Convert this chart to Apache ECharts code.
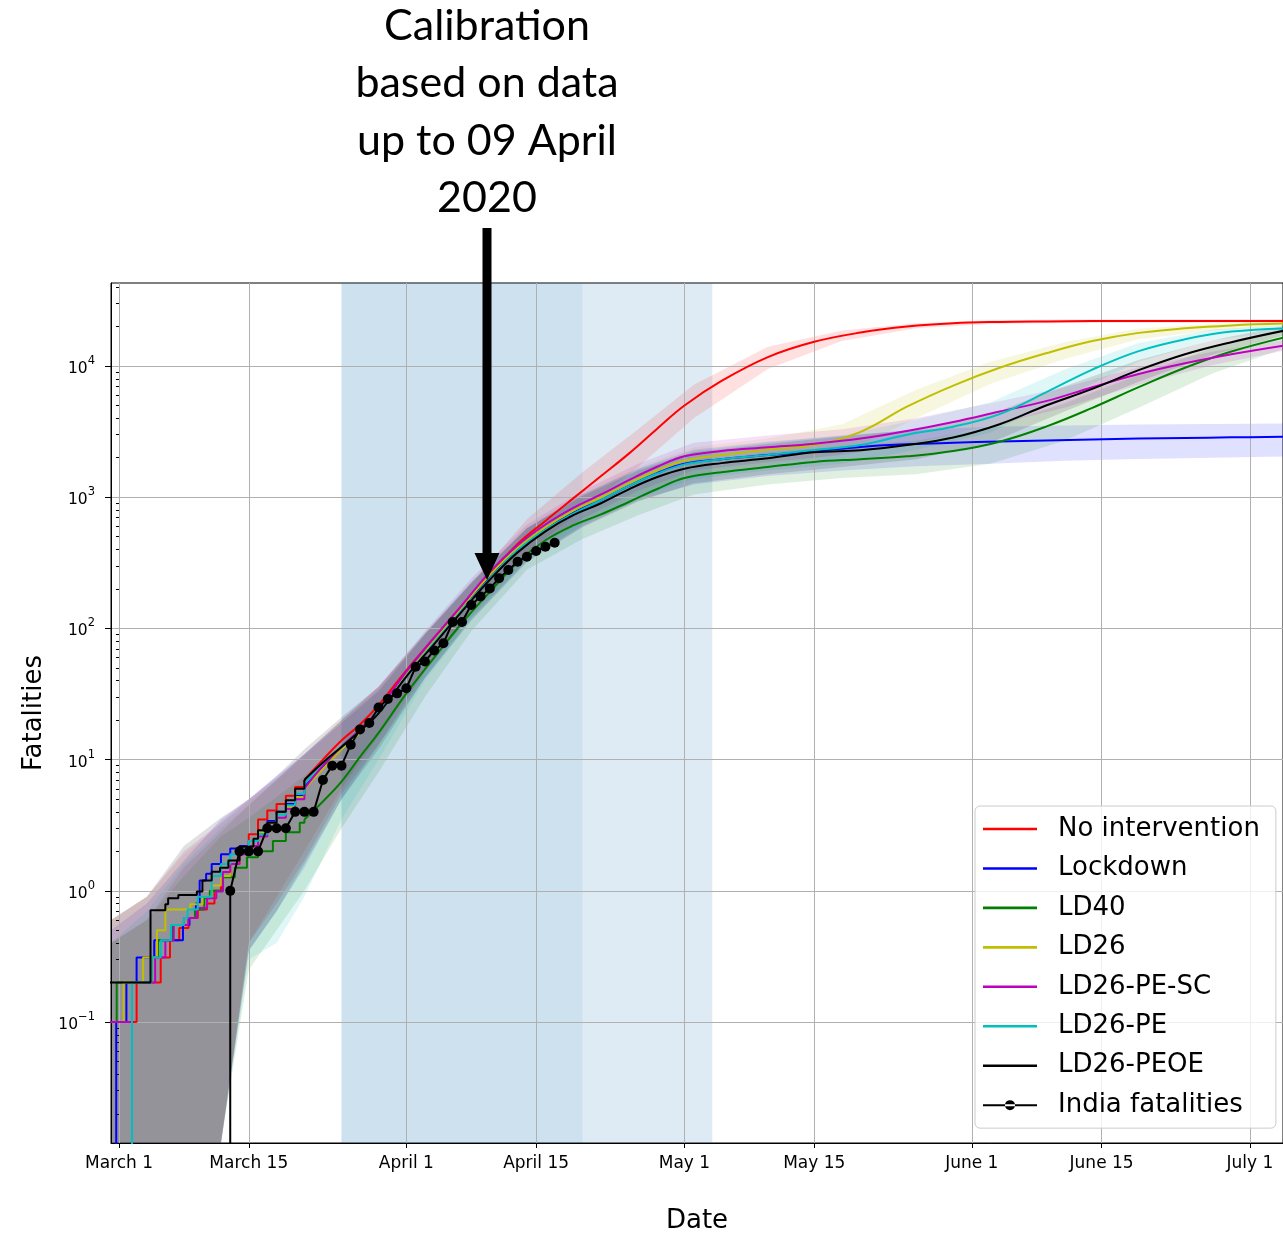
<!DOCTYPE html>
<html><head><meta charset="utf-8">
<script src="https://cdn.jsdelivr.net/npm/echarts@6/dist/echarts.min.js"></script>
<style>html,body{margin:0;padding:0;background:#fff}#c{width:1283px;height:1233px}</style>
</head><body><div id="c"></div>
<script>
// x values are day offsets from 1 March 2020
const xTickDays = [0, 14, 31, 45, 61, 75, 92, 106, 122];
const xTickLabels = ['March 1', 'March 15', 'April 1', 'April 15', 'May 1', 'May 15', 'June 1', 'June 15', 'July 1'];
const yTickValues = [0.1, 1, 10, 100, 1000, 10000];
const yTickExponents = ['\u22121', '0', '1', '2', '3', '4'];
const lockdownPhase1 = [24, 50]; // 25 Mar - 20 Apr
const lockdownPhase2 = [50, 64]; // 20 Apr - 4 May

const seriesNames = ['No intervention', 'Lockdown', 'LD40', 'LD26', 'LD26-PE-SC', 'LD26-PE', 'LD26-PEOE', 'India fatalities'];
const seriesColors = ['#ff0000', '#0000ff', '#008000', '#bfbf00', '#bf00bf', '#00bfbf', '#000000', '#000000'];

// early (stepwise) model output, [day, fatalities]
const earlyRed = [[-1,0.1],[1.9,0.2],[4.5,0.31],[5.5,0.42],[6.5,0.52],[7.5,0.62],[8.5,0.72],[9.5,0.8],[10.3,1.0],[11,1.3],[12,1.6],[13,2.1],[14,2.7],[15,3.5],[16,4.1],[17,4.6],[18,5.3],[19,6.2],[20,7.0]];
const earlyBlue = [[-1,0.0001],[-0.3,0.1],[0.8,0.2],[1.9,0.31],[3.8,0.42],[6.9,0.55],[7.6,0.62],[8.3,0.8],[8.7,1.2],[9.4,1.35],[10,1.6],[11,1.9],[12,2.1],[13,2.2],[14,2.4],[15,2.8],[16,3.4],[17,4.0],[18,4.6],[19,5.3],[20,6.2]];
const earlyGreen = [[-1,0.1],[-0.25,0.2],[3.5,0.31],[4.2,0.42],[5.8,0.55],[7,0.62],[8.2,0.72],[9.2,0.88],[9.8,1.0],[11.2,1.27],[12.5,1.5],[13.8,1.8],[15,2.0],[16.6,2.4],[18,2.8],[19.5,3.3],[20,3.5]];
const earlyYellow = [[-1,0.1],[0.5,0.2],[2.6,0.31],[4.1,0.5],[5,0.72],[7.7,0.79],[9,0.9],[10,1.1],[11,1.3],[12,1.6],[13,2.0],[14,2.4],[15,2.8],[16,3.3],[17,3.8],[18,4.4],[19,5.2],[20,6.0]];
const earlyMagenta = [[-1,0.1],[1.4,0.2],[3.9,0.31],[5.0,0.42],[5.9,0.55],[7.5,0.62],[8.4,0.74],[9.5,0.88],[10.5,0.99],[11.2,1.39],[12,1.6],[13,1.9],[14,2.2],[15,2.6],[16,3.1],[17,3.6],[18,4.2],[19,5.0],[20,6.0]];
const earlyCyan = [[-1,0.0001],[1.4,0.2],[3.5,0.31],[4.5,0.42],[5.6,0.55],[7.0,0.62],[7.4,0.72],[8.5,0.9],[10,1.3],[11,1.6],[12,1.9],[13,2.1],[14,2.4],[15,2.7],[16,3.1],[17,3.8],[18,4.5],[19,5.5],[20,6.5]];
const earlyBlack = [[-1,0.2],[3.4,0.71],[5,0.79],[5.3,0.88],[6.4,0.93],[8.4,0.99],[9,1.2],[10,1.4],[10.9,1.5],[11.8,1.7],[13,2.17],[14.5,2.5],[15,2.9],[16,3.3],[17,4.0],[18,4.9],[19,6.0],[20,7.0]];

// later (smooth) model output
const lateDays = [20,22,24,26,28,31,34,37,40,43,46,49,52,55,58,61,65,70,75,80,85,90,95,100,105,110,115,120,126];
const lateRed = [7.0,10,14,18.5,26,48,85,150,260,440,660,980,1450,2150,3300,5000,7700,11700,15300,18000,20000,21200,21700,21900,22000,22000,22000,22000,22000];
const lateBlue = [6.2,8.8,12.5,16.5,23,44,79,140,245,400,570,760,950,1220,1520,1800,1950,2100,2240,2420,2530,2600,2660,2710,2760,2800,2830,2860,2890];
const lateGreen = [3.5,4.8,6.8,10.5,16,32,60,110,190,320,470,610,740,920,1150,1400,1550,1700,1860,1950,2050,2250,2650,3450,4800,6900,9700,12900,16700];
const lateYellow = [6.0,8.5,12,16,23,44,80,145,255,410,590,790,1000,1280,1600,1900,2100,2300,2500,3150,4900,7100,9700,12500,15500,17900,19400,20400,21100];
const lateMagenta = [6.0,9.0,12.5,17,24,47,85,150,270,430,620,830,1050,1350,1700,2050,2250,2400,2560,2800,3200,3750,4500,5400,6900,8700,10500,12300,14450];
const lateCyan = [6.5,9.5,12.5,16.5,23,43,78,138,240,395,565,750,950,1220,1510,1780,1950,2100,2290,2500,3000,3450,4300,6300,9400,13000,16000,18300,19400];
const lateBlack = [7.0,9.5,12.5,16.5,22.5,43,76,135,235,380,550,730,900,1150,1420,1650,1820,1980,2200,2280,2500,2850,3600,5000,6700,9300,12300,15200,18800];

// uncertainty bands (lower / upper)
const bandDays = [-1,3,7,11,14,17,20,24,28,33,38,44,50,56,62,70,78,86,94,102,110,118,126];
const redLo = [0.001,0.001,0.001,0.001,0.4,0.9,2.0,6,15,48,130,380,800,1700,4000,9500,15500,19400,20900,21300,21400,21400,21400];
const redHi = [0.4,0.6,1.5,2.8,4.5,7,11,20,36,90,220,680,1550,3300,7200,14000,18700,21200,22300,22600,22700,22700,22700];
const blueLo = [0.001,0.001,0.001,0.001,0.35,0.7,1.5,5,13,42,120,330,600,950,1250,1450,1600,1720,1800,1900,1960,2000,2040];
const blueHi = [0.5,0.8,1.7,3.5,5,7.5,11,19,33,90,220,580,1050,1650,2300,2650,2950,3250,3450,3530,3580,3620,3650];
const greenLo = [0.001,0.001,0.001,0.001,0.25,0.5,1.0,3,8,30,95,280,480,730,1050,1250,1400,1500,1800,2700,4800,8800,13500];
const greenHi = [0.4,0.6,1.3,2.6,3.6,5.2,7.5,13,27,70,190,490,850,1300,1850,2200,2450,2700,3400,5200,8600,13800,18500];
const yellowLo = [0.001,0.001,0.001,0.001,0.4,0.8,1.7,5.5,13,45,125,350,650,1050,1500,1750,2150,4000,7300,11300,16000,18700,20200];
const yellowHi = [0.6,0.9,1.9,3.2,4.8,7,10.5,19,34,92,225,590,1050,1700,2400,2800,3600,6600,10800,15200,19300,21000,21800];
const magentaLo = [0.001,0.001,0.001,0.001,0.4,0.8,1.7,5.5,13,47,130,370,690,1120,1600,1850,2100,2600,3500,4800,7200,10200,13000];
const magentaHi = [0.6,0.9,2.0,3.3,5,7.2,11,20,36,95,240,620,1120,1800,2600,2950,3300,4000,5200,6900,9800,12900,15700];
const cyanLo = [0.001,0.001,0.001,0.001,0.3,0.4,0.9,3.5,10,40,115,330,620,1000,1380,1600,1800,2300,3100,5800,10800,15800,18200];
const cyanHi = [0.4,0.7,1.6,3.0,4.5,7,11,20,34,90,225,580,1050,1650,2250,2600,2950,3900,5300,9400,15000,19000,20400];
const blackLo = [0.001,0.001,0.001,0.001,0.35,0.7,1.6,5,12,42,115,320,590,930,1280,1500,1700,1950,2600,4500,7600,12200,17000];
const blackHi = [0.6,0.9,2.2,3.6,5,7.5,12,21,36,92,225,580,1020,1600,2200,2550,2900,3300,4300,7000,11100,15700,20200];

// observed India fatalities (0 before day 12)
const indiaDays = [12,13,14,15,16,17,18,19,20,21,22,23,24,25,26,27,28,29,30,31,32,33,34,35,36,37,38,39,40,41,42,43,44,45,46,47];
const indiaDeaths = [1,2,2,2,3,3,3,4,4,4,7,9,9,13,17,19,25,29,32,35,51,56,68,77,112,112,151,175,202,241,279,322,352,389,420,450];

const FONT = 'DejaVu Sans';
const yMin = 0.01197, yMax = 42950;
const minorVals = [];
for (let k = -2; k <= 4; k++) for (let m = 2; m <= 9; m++) { const v = m * Math.pow(10, k); if (v > yMin && v < yMax) minorVals.push(v); }

const series = [];
series.push({type: 'line', name: '_shade', data: [[0, 1]], symbol: 'none', lineStyle: {width: 0, opacity: 0}, silent: true, z: 1,
  markArea: {silent: true, data: [
    [{xAxis: lockdownPhase1[0], itemStyle: {color: 'rgba(31,119,180,0.22)'}}, {xAxis: lockdownPhase1[1]}],
    [{xAxis: lockdownPhase2[0], itemStyle: {color: 'rgba(31,119,180,0.15)'}}, {xAxis: lockdownPhase2[1]}]
  ]}});

const models = [
  [earlyRed, lateRed, redLo, redHi],
  [earlyBlue, lateBlue, blueLo, blueHi],
  [earlyGreen, lateGreen, greenLo, greenHi],
  [earlyYellow, lateYellow, yellowLo, yellowHi],
  [earlyMagenta, lateMagenta, magentaLo, magentaHi],
  [earlyCyan, lateCyan, cyanLo, cyanHi],
  [earlyBlack, lateBlack, blackLo, blackHi]
];
models.forEach((m, i) => {
  const color = seriesColors[i], lo = m[2], hi = m[3];
  series.push({type: 'custom', name: seriesNames[i] + ' band', z: 2, silent: true,
    data: bandDays.map((d, j) => [d, lo[j], hi[j]]),
    renderItem: (params, api) => {
      if (params.dataIndex !== 0) return null;
      const pts = [];
      bandDays.forEach((d, j) => pts.push(api.coord([d, hi[j]])));
      for (let j = bandDays.length - 1; j >= 0; j--) pts.push(api.coord([bandDays[j], lo[j]]));
      const cs = params.coordSys;
      return {type: 'polygon', shape: {points: echarts.graphic.clipPointsByRect(pts, {x: cs.x, y: cs.y, width: cs.width, height: cs.height})},
        style: {fill: color, opacity: 0.12}};
    }});
});
models.forEach((m, i) => {
  const name = seriesNames[i], color = seriesColors[i];
  series.push({type: 'line', name: name, step: 'end', data: m[0], symbol: 'none',
    lineStyle: {color: color, width: 2}, itemStyle: {color: color}, z: 4});
  series.push({type: 'line', name: name, smooth: 0.4, data: lateDays.map((d, j) => [d, m[1][j]]), symbol: 'none',
    lineStyle: {color: color, width: 2}, itemStyle: {color: color}, z: 4});
});
series.push({type: 'line', name: 'India fatalities', z: 5, symbol: 'circle', symbolSize: 10, showAllSymbol: true,
  data: [{value: [indiaDays[0], 0.0001], symbol: 'none'}].concat(indiaDays.map((d, i) => [d, indiaDeaths[i]])),
  lineStyle: {color: '#000', width: 2}, itemStyle: {color: '#000'}});

const lineIcon = 'path://M0,0H54V2.6H0Z';
const dotIcon = 'path://M0,5H54V7H0Z M22,6A5,5 0 1,0 32,6A5,5 0 1,0 22,6Z';

const chart = echarts.init(document.getElementById('c'), null, {renderer: 'canvas', width: 1283, height: 1233});
chart.setOption({
  animation: false,
  backgroundColor: '#ffffff',
  grid: {left: 111, right: 0, top: 283, bottom: 90, show: true, borderColor: '#000', borderWidth: 1, backgroundColor: 'transparent',
    containLabel: false, outerBoundsMode: 'none'},
  xAxis: {type: 'value', min: -0.863, max: 125.57, z: 3,
    axisLine: {show: true, onZero: false, lineStyle: {color: '#000', width: 1}},
    axisTick: {show: true, customValues: xTickDays, length: 5, lineStyle: {color: '#000'}},
    axisLabel: {customValues: xTickDays, formatter: v => xTickLabels[xTickDays.indexOf(Math.round(v))] || '', fontSize: 17, fontFamily: FONT, color: '#000', margin: 12},
    splitLine: {show: true, lineStyle: {color: '#b0b0b0', width: 1}},
    name: 'Date', nameLocation: 'middle', nameGap: 65, nameTextStyle: {fontSize: 26, fontFamily: FONT, color: '#000'}},
  yAxis: [
    {type: 'log', logBase: 10, min: yMin, max: yMax, z: 3,
      axisLine: {show: true, onZero: false, lineStyle: {color: '#000', width: 1}},
      axisTick: {show: true, customValues: yTickValues, length: 6, lineStyle: {color: '#000'}},
      axisLabel: {customValues: yTickValues,
        formatter: v => { const k = Math.round(Math.log10(v)); const idx = yTickValues.findIndex(t => Math.round(Math.log10(t)) === k); return idx >= 0 ? '{b|10}{s|' + yTickExponents[idx] + '}' : ''; },
        color: '#000', margin: 16,
        rich: {b: {fontSize: 15.5, fontFamily: FONT, color: '#000', lineHeight: 22, verticalAlign: 'bottom'},
               s: {fontSize: 11.5, fontFamily: FONT, color: '#000', lineHeight: 22, verticalAlign: 'top'}}},
      splitLine: {show: true, lineStyle: {color: '#b0b0b0', width: 1}},
      name: 'Fatalities', nameLocation: 'middle', nameGap: 62, nameRotate: 90, nameTextStyle: {fontSize: 26, fontFamily: FONT, color: '#000'}},
    {type: 'log', logBase: 10, min: yMin, max: yMax, position: 'left', z: 3,
      axisLine: {show: false}, axisLabel: {show: false}, splitLine: {show: false},
      axisTick: {show: true, customValues: minorVals, length: 3, lineStyle: {color: '#000'}}}
  ],
  legend: {data: seriesNames.map((n, i) => ({name: n, icon: i === 7 ? dotIcon : lineIcon})),
    orient: 'vertical', left: 975, top: 806, padding: [8, 16, 8, 8], itemWidth: 54, itemHeight: 14, itemGap: 9.45,
    backgroundColor: 'rgba(255,255,255,0.8)', borderColor: '#cccccc', borderWidth: 1, borderRadius: 5, z: 10,
    textStyle: {fontSize: 26, fontFamily: FONT, color: '#000', lineHeight: 30, padding: [0, 0, 0, 16]}},
  graphic: [
    {type: 'text', z: 100, style: {text: 'Calibration\nbased on data\nup to 09 April\n2020', x: 487, y: -3, align: 'center', verticalAlign: 'top', textAlign: 'center', textVerticalAlign: 'top', font: '43px Lato', lineHeight: 57.5, fill: '#000'}},
    {type: 'rect', z: 100, shape: {x: 482.5, y: 228, width: 9, height: 327}, style: {fill: '#000'}},
    {type: 'polygon', z: 100, shape: {points: [[474.5, 553], [499.5, 553], [487, 580]]}, style: {fill: '#000'}}
  ],
  series: series
});
</script></body></html>
